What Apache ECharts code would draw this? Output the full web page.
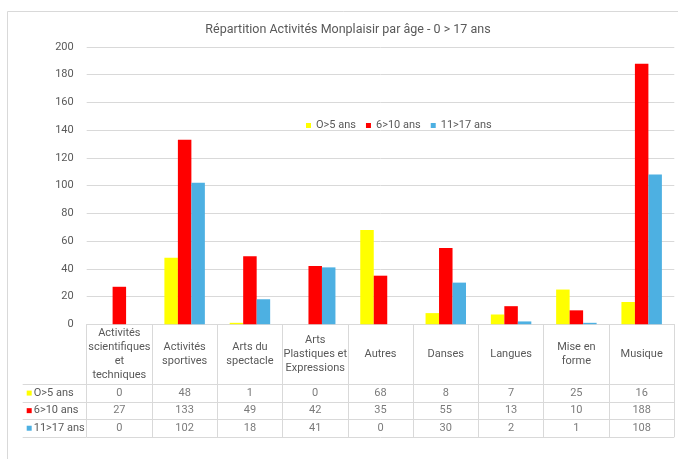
<!DOCTYPE html>
<html>
<head>
<meta charset="utf-8">
<script src="https://cdn.jsdelivr.net/npm/echarts@6/dist/echarts.min.js"></script>
<style>
  html, body { margin: 0; padding: 0; background: #fff; }
  #chart { width: 678px; height: 459px; }
</style>
</head>
<body>
<div id="chart"></div>
<script>
// catégories et libellés du tableau
var categories = ['Activités scientifiques et techniques', 'Activités sportives', 'Arts du spectacle',
  'Arts Plastiques et Expressions', 'Autres', 'Danses', 'Langues', 'Mise en forme', 'Musique'];
var headerLabels = ['Activités\nscientifiques\net\ntechniques', 'Activités\nsportives', 'Arts du\nspectacle',
  'Arts\nPlastiques et\nExpressions', 'Autres', 'Danses', 'Langues', 'Mise en\nforme', 'Musique'];
var seriesNames = ['O>5 ans', '6>10 ans', '11>17 ans'];
var seriesColors = ['#FFFF00', '#FF0000', '#4DB0E2'];
var age0to5 = [0, 48, 1, 0, 68, 8, 7, 25, 16];
var age6to10 = [27, 133, 49, 42, 35, 55, 13, 10, 188];
var age11to17 = [0, 102, 18, 41, 0, 30, 2, 1, 108];
var yTicks = [0, 20, 40, 60, 80, 100, 120, 140, 160, 180, 200];

var values = [age0to5, age6to10, age11to17];
var FONT = "'Liberation Sans Narrow', 'Roboto', sans-serif";
var TXT = '#595959';
var LINE = '#d9d9d9';
var FS = 11;

var chart = echarts.init(document.getElementById('chart'));

var barSeries = seriesNames.map(function (n, k) {
  return {
    name: n, type: 'bar', xAxisIndex: 0, yAxisIndex: 0,
    barGap: 0, barCategoryGap: '38%',
    itemStyle: { color: seriesColors[k] },
    data: values[k]
  };
});

// valeurs du tableau de données
var tableSeries = seriesNames.map(function (n, k) {
  return {
    name: 'tab_' + n, type: 'scatter', xAxisIndex: 1, yAxisIndex: 1,
    symbolSize: 0, silent: true,
    label: {
      show: true, position: 'inside', color: TXT, fontSize: FS, fontFamily: FONT,
      formatter: function (p) { return p.value[2]; }
    },
    data: categories.map(function (c, i) { return [c, n, values[k][i]]; })
  };
});

// libellés des lignes avec carré de couleur
var rich = {};
seriesNames.forEach(function (n, k) {
  rich['sq' + k] = { width: 5, height: 5, backgroundColor: seriesColors[k] };
});
rich.t = { color: TXT, fontSize: FS, fontFamily: FONT, padding: [0, 0, 0, 2] };

var option = {
  animation: false,
  backgroundColor: '#fff',
  textStyle: { fontFamily: FONT },
  title: {
    text: 'Répartition Activités Monplaisir par âge - 0 > 17 ans',
    left: 343, top: 18, textAlign: 'center',
    textStyle: { color: TXT, fontSize: 12.5, fontWeight: 'normal', fontFamily: FONT }
  },
  legend: {
    data: seriesNames, left: 306, top: 120, padding: 0,
    icon: 'rect', itemWidth: 5, itemHeight: 5, itemGap: 10,
    textStyle: { color: TXT, fontSize: FS, fontFamily: FONT }
  },
  graphic: [{
    type: 'rect', left: 5, top: 9, shape: { width: 700, height: 500 },
    style: { fill: 'none', stroke: LINE, lineWidth: 1 }, silent: true
  }],
  grid: [
    { left: 86.7, right: 3.7, top: 47, bottom: 134.8 },
    { left: 86.7, right: 3.7, top: 384.3, height: 52.7 }
  ],
  xAxis: [{
    type: 'category', gridIndex: 0, data: categories,
    axisLine: { lineStyle: { color: LINE } },
    axisTick: { show: true, interval: 0, length: 112.8, lineStyle: { color: LINE } },
    axisLabel: {
      interval: 0, margin: 30, verticalAlign: 'middle', lineHeight: 14,
      color: TXT, fontSize: FS, fontFamily: FONT,
      formatter: function (v, i) { return headerLabels[i]; }
    }
  }, {
    type: 'category', gridIndex: 1, data: categories, show: false
  }],
  yAxis: [{
    type: 'value', gridIndex: 0, min: 0, max: 200, interval: 20,
    axisLine: { show: false }, axisTick: { show: false },
    splitLine: { lineStyle: { color: LINE } },
    axisLabel: {
      color: TXT, fontSize: FS, fontFamily: FONT, margin: 13,
      customValues: yTicks
    }
  }, {
    type: 'category', gridIndex: 1, data: seriesNames, inverse: true,
    axisLine: { show: false },
    axisTick: { show: true, interval: 0, length: 64, lineStyle: { color: LINE } },
    splitLine: { show: true, interval: 0, lineStyle: { color: LINE } },
    axisLabel: {
      interval: 0, align: 'left', margin: 60, rich: rich,
      formatter: function (v, i) { return '{sq' + i + '|}{t|' + v + '}'; }
    }
  }, {
    type: 'category', gridIndex: 1, data: seriesNames, inverse: true, offset: 64,
    axisLine: { show: true, lineStyle: { color: LINE } },
    axisTick: { show: false }, axisLabel: { show: false }, splitLine: { show: false }
  }],
  series: barSeries.concat(tableSeries)
};

chart.setOption(option);
</script>
</body>
</html>
